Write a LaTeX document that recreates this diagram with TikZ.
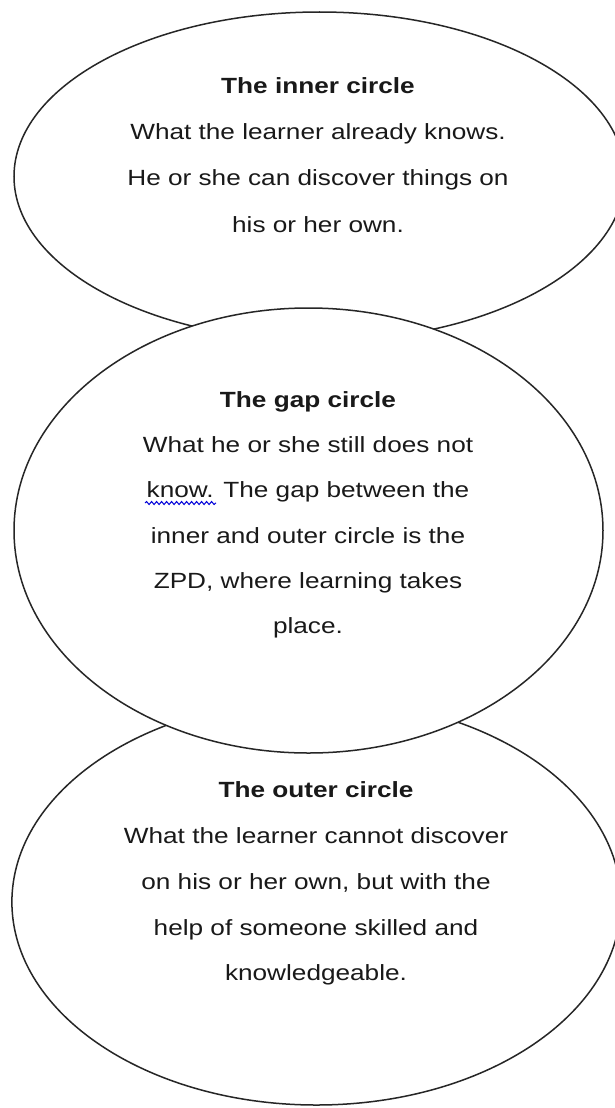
\documentclass[tikz,border=0pt]{standalone}
\usepackage{fontspec}
\setmainfont{Liberation Sans}[FakeStretch=1.19]
\usetikzlibrary{shapes.geometric,decorations.pathmorphing}
\begin{document}
\begin{tikzpicture}[x=1pt,y=-1pt,
  ell/.style={ellipse, draw=black!85, line width=1.5pt, inner sep=0pt},
  txt/.style={anchor=base, inner sep=0pt, text=black!90, font=\fontsize{22}{26}\selectfont},
  ttl/.style={txt, font=\fontsize{22}{26}\selectfont\bfseries},
  squig/.style={draw=blue!85!black, line width=1pt, decorate, decoration={snake, amplitude=1.5pt, segment length=5pt}}]
\useasboundingbox (0,0) rectangle (615,1108);
\fill[white] (0,0) rectangle (615,1108);
% ellipses
\node[ell, minimum width=611pt, minimum height=329pt] (innerE) at (319.5,176.5) {};
\node[ell, minimum width=609pt, minimum height=406pt] (outerE) at (316.4,902) {};
\node[ell, fill=white, minimum width=589pt, minimum height=445pt] (gapE) at (308.5,530.5) {};
% inner circle text
\node[ttl] (t1) at (318,93) {The inner circle};
\node[txt] (t2) at (318,139.3) {What the learner already knows.};
\node[txt] (t3) at (318,185.6) {He or she can discover things on};
\node[txt] (t4) at (318,232) {his or her own.};
% gap circle text
\node[ttl] (g1) at (308,407) {The gap circle};
\node[txt] (g2) at (308,452) {What he or she still does not};
\node[txt] (g3) at (308,497.5) {know. The gap between the};
\node[txt] (g4) at (308,543) {inner and outer circle is the};
\node[txt] (g5) at (308,588) {ZPD, where learning takes};
\node[txt] (g6) at (308,633) {place.};
% outer circle text
\node[ttl] (o1) at (316,797) {The outer circle};
\node[txt] (o2) at (316,843) {What the learner cannot discover};
\node[txt] (o3) at (316,889) {on his or her own, but with the};
\node[txt] (o4) at (316,935) {help of someone skilled and};
\node[txt] (o5) at (316,980) {knowledgeable.};
% spell-check squiggle
\coordinate (sqA) at (145,503);
\coordinate (sqB) at (216,503);
\draw[squig] (sqA) -- (sqB);
\end{tikzpicture}
\end{document}
